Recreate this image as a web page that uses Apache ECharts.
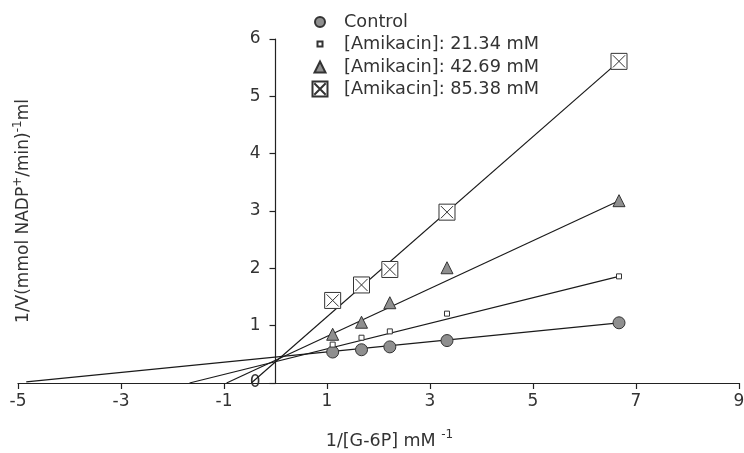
<!DOCTYPE html>
<html>
<head>
<meta charset="utf-8">
<script src="https://cdn.jsdelivr.net/npm/echarts@6/dist/echarts.min.js"></script>
<style>
  html, body { margin: 0; padding: 0; background: #fff; }
  #chart { width: 744px; height: 453px; }
</style>
</head>
<body>
<div id="chart"></div>
<script>
// 1/[G-6P] values shared by every group
var xVals = [1.11, 1.67, 2.22, 3.33, 6.67];

var seriesNames = ['Control', '[Amikacin]: 21.34 mM', '[Amikacin]: 42.69 mM', '[Amikacin]: 85.38 mM'];
var control = [0.54, 0.58, 0.63, 0.74, 1.05];
var ami21 = [0.67, 0.79, 0.90, 1.21, 1.86];
var ami42 = [0.85, 1.06, 1.40, 2.01, 3.18];
var ami85 = [1.44, 1.71, 1.98, 2.98, 5.61];

// fitted lines: start on the x axis (x intercept), end at the last point
var fitStartX = [-4.84, -1.67, -0.95, -0.47];
var fitStartY = [0.02, 0, 0, 0];
var fitEndY = [1.05, 1.86, 3.18, 5.61];

var xTicks = [-5, 9, 2];   // min, max, interval
var yTicks = [0, 6, 1];

var boxX = 'path://M0,0L10,0L10,10L0,10Z M1.2,1.2L8.8,8.8 M8.8,1.2L1.2,8.8';
var symbols = ['circle', 'rect', 'triangle', boxX];
var symbolSizes = [12, 5, 12, 16];
var legendSizes = [10, 5, 11, 15];
var fills = ['#8f8f8f', '#ffffff', '#8f8f8f', '#ffffff'];
var legendRowY = [22, 44, 67, 89];

var groups = [control, ami21, ami42, ami85];
var FONT = 'DejaVu Sans';

var GRID_LEFT = 18, GRID_RIGHT = 5;
// y axis sits where x = 0
var yAxisShift = (744 - GRID_LEFT - GRID_RIGHT) * (0 - xTicks[0]) / (xTicks[1] - xTicks[0]);

function pts(ys) {
  return xVals.map(function (x, i) { return [x, ys[i]]; });
}

var series = [];
groups.forEach(function (ys, k) {
  series.push({
    name: 'fit' + k,
    type: 'line',
    silent: true,
    symbol: 'none',
    z: 1,
    lineStyle: { color: '#1a1a1a', width: 1.2 },
    data: [[fitStartX[k], fitStartY[k]], [xVals[xVals.length - 1], fitEndY[k]]]
  });
});
groups.forEach(function (ys, k) {
  series.push({
    name: seriesNames[k],
    type: 'scatter',
    z: 3,
    symbol: symbols[k],
    symbolSize: symbolSizes[k],
    itemStyle: { color: fills[k], borderColor: '#333', borderWidth: 1, opacity: 1 },
    data: pts(ys)
  });
});

// one legend per row so every icon keeps its own size
var legends = seriesNames.map(function (n, k) {
  var s = legendSizes[k];
  return {
    data: [{ name: n, icon: symbols[k] }],
    orient: 'vertical',
    left: 319 - s / 2,
    top: legendRowY[k] - 10,
    padding: 0,
    itemWidth: s,
    itemHeight: s,
    selectedMode: false,
    textStyle: { fontFamily: FONT, fontSize: 17.7, color: '#333', lineHeight: 20,
      padding: [0, 0, 0, 19 - s / 2] }
  };
});

var chart = echarts.init(document.getElementById('chart'), null, { renderer: 'canvas' });
var option = {
  animation: false,
  backgroundColor: '#fff',
  legend: legends,
  grid: { left: GRID_LEFT, right: GRID_RIGHT, top: 39, bottom: 70, containLabel: false, outerBoundsMode: 'none' },
  xAxis: {
    type: 'value',
    min: xTicks[0], max: xTicks[1], interval: xTicks[2],
    splitLine: { show: false },
    axisLine: { onZero: false, lineStyle: { color: '#222', width: 1.2 } },
    axisTick: { show: true, length: 6, lineStyle: { color: '#222', width: 1.2 } },
    axisLabel: { margin: 10, fontFamily: FONT, fontSize: 17, color: '#333' },
    name: '{a|1/[G-6P] mM }{s|-1}',
    nameLocation: 'middle',
    nameGap: 46,
    nameTextStyle: {
      padding: [0, 0, 0, 22],
      rich: {
        a: { fontFamily: FONT, fontSize: 17.5, color: '#333', lineHeight: 24 },
        s: { fontFamily: FONT, fontSize: 12, color: '#333', lineHeight: 12, verticalAlign: 'top' }
      }
    }
  },
  yAxis: {
    type: 'value',
    position: 'left',
    offset: -yAxisShift,
    min: yTicks[0], max: yTicks[1], interval: yTicks[2],
    splitLine: { show: false },
    axisLine: { onZero: false, lineStyle: { color: '#222', width: 1.2 } },
    axisTick: { show: true, length: 6, lineStyle: { color: '#222', width: 1.2 } },
    axisLabel: { margin: 15, fontFamily: FONT, fontSize: 17, color: '#333' },
    name: '{a|1/V(mmol NADP}{s|+}{a|/min)}{s|-1}{a|ml}',
    nameLocation: 'middle',
    nameRotate: 90,
    nameGap: 240,
    nameMoveOverlap: false,
    nameTextStyle: {
      rich: {
        a: { fontFamily: FONT, fontSize: 17, color: '#333', lineHeight: 24 },
        s: { fontFamily: FONT, fontSize: 12, color: '#333', lineHeight: 12, verticalAlign: 'top' }
      }
    }
  },
  series: series
};
chart.setOption(option);
</script>
</body>
</html>
